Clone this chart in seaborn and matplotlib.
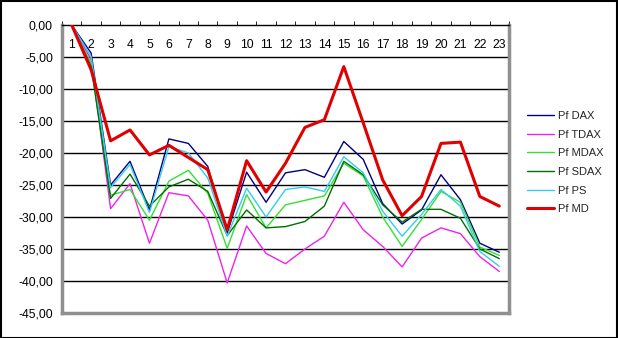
import matplotlib
matplotlib.use("Agg")
import matplotlib.pyplot as plt
import matplotlib.patches as mpatches
from matplotlib.ticker import FixedLocator, FuncFormatter
import numpy as np
import pandas as pd
import seaborn as sns

# ---- data ----
periods = list(range(1, 24))
series_names = ["Pf DAX", "Pf TDAX", "Pf MDAX", "Pf SDAX", "Pf PS", "Pf MD"]
pf_dax = [0, -4.4, -25.0, -21.3, -28.9, -17.8, -18.5, -22.1, -32.5, -23.0, -27.7, -23.1,
          -22.6, -23.8, -18.2, -21.0, -27.9, -31.1, -28.9, -23.4, -27.3, -34.1, -35.5]
pf_tdax = [0, -5.4, -28.7, -24.8, -34.1, -26.2, -26.7, -30.5, -40.3, -31.4, -35.7, -37.3,
           -35.0, -33.0, -27.7, -32.0, -34.6, -37.8, -33.3, -31.7, -32.6, -36.2, -38.5]
pf_mdax = [0, -6.0, -26.6, -25.7, -30.5, -24.4, -22.7, -26.3, -34.9, -26.5, -31.7, -28.1,
           -27.4, -26.7, -21.6, -23.6, -30.0, -34.6, -30.4, -26.0, -27.7, -34.7, -36.0]
pf_sdax = [0, -6.5, -27.1, -23.3, -28.3, -25.3, -24.1, -26.0, -32.9, -28.9, -31.7, -31.5,
           -30.7, -28.3, -21.3, -23.4, -28.1, -30.8, -28.8, -28.8, -30.2, -35.0, -36.5]
pf_ps = [0, -4.9, -25.4, -21.8, -29.3, -19.0, -20.0, -23.9, -33.0, -25.5, -30.0, -25.7,
         -25.3, -26.0, -20.6, -23.1, -29.1, -33.0, -29.6, -25.7, -28.3, -35.4, -37.7]
pf_md = [0, -7.0, -18.1, -16.4, -20.3, -18.8, -20.7, -22.6, -32.0, -21.2, -26.1, -21.6,
         -16.0, -14.8, -6.5, -15.3, -24.2, -29.8, -26.8, -18.5, -18.3, -26.8, -28.3]
y_ticks = [0, -5, -10, -15, -20, -25, -30, -35, -40, -45]

colors = {"Pf DAX": "#000080", "Pf TDAX": "#EE22EE", "Pf MDAX": "#33E033",
          "Pf SDAX": "#007000", "Pf PS": "#33CCEE", "Pf MD": "#E00000"}

df = pd.DataFrame({"Periode": periods * 6,
                   "Wert": pf_dax + pf_tdax + pf_mdax + pf_sdax + pf_ps + pf_md,
                   "Serie": sum([[n] * len(periods) for n in series_names], [])})

sns.set_style("white")
plt.rcParams["font.family"] = ["Liberation Sans", "DejaVu Sans"]

W, H = 618, 338
fig = plt.figure(figsize=(W / 100, H / 100), dpi=100)
ax = fig.add_axes([62 / W, 1 - 313 / H, 447 / W, 288 / H])

sns.lineplot(data=df, x="Periode", y="Wert", hue="Serie", hue_order=series_names,
             palette=colors, ax=ax, legend=False, linewidth=1, sort=False)
for line, name in zip(ax.get_lines(), series_names):
    if name == "Pf MD":
        line.set_linewidth(2.2)
        line.set_zorder(5)

ax.set_xlim(0.5, 23.5)
ax.set_ylim(-45, 0)
ax.set_xlabel("")
ax.set_ylabel("")

# y axis
ax.set_yticks(y_ticks)
ax.yaxis.set_major_formatter(FuncFormatter(lambda v, p: f"{v:.2f}".replace(".", ",")))
ax.tick_params(axis="y", direction="out", length=3, width=1, color="black",
               labelsize=8.7, pad=3.5, labelcolor="black")
for yv in y_ticks[1:-1]:
    ax.axhline(yv, color="black", linewidth=1, zorder=1)

# x axis on top, labels inside
ax.xaxis.tick_top()
ax.set_xticks(periods)
ax.set_xticklabels([str(p) for p in periods])
ax.tick_params(axis="x", which="major", length=0, labelsize=8.7, pad=-19, labelcolor="black")
ax.xaxis.set_minor_locator(FixedLocator(np.arange(0.5, 24, 1)))
ax.tick_params(axis="x", which="minor", top=True, direction="out", length=3, color="black")

# spines
for s in ["left", "right", "bottom"]:
    ax.spines[s].set_visible(True)
    ax.spines[s].set_color("#909090")
    ax.spines[s].set_linewidth(2.5)
    ax.spines[s].set_linestyle((0, (1, 1)))
ax.spines["top"].set_visible(True)
ax.spines["top"].set_color("black")
ax.spines["top"].set_linewidth(1)

# legend
handles = [plt.Line2D([], [], color=colors[n], linewidth=2.2 if n == "Pf MD" else 1)
           for n in series_names]
fig.legend(handles, series_names, loc="upper left", bbox_to_anchor=(527 / W, 1 - 111 / H),
           frameon=False, fontsize=8, handlelength=2.4, handletextpad=0.4,
           labelspacing=0.78, borderpad=0, borderaxespad=0)

# outer chart border
fig.patches.append(mpatches.Rectangle((0.5 / W, 0.5 / H), 1 - 1.5 / W, 1 - 1.5 / H,
                                      transform=fig.transFigure, fill=False,
                                      edgecolor="black", linewidth=1.5))

fig.savefig("out.png", dpi=100)
